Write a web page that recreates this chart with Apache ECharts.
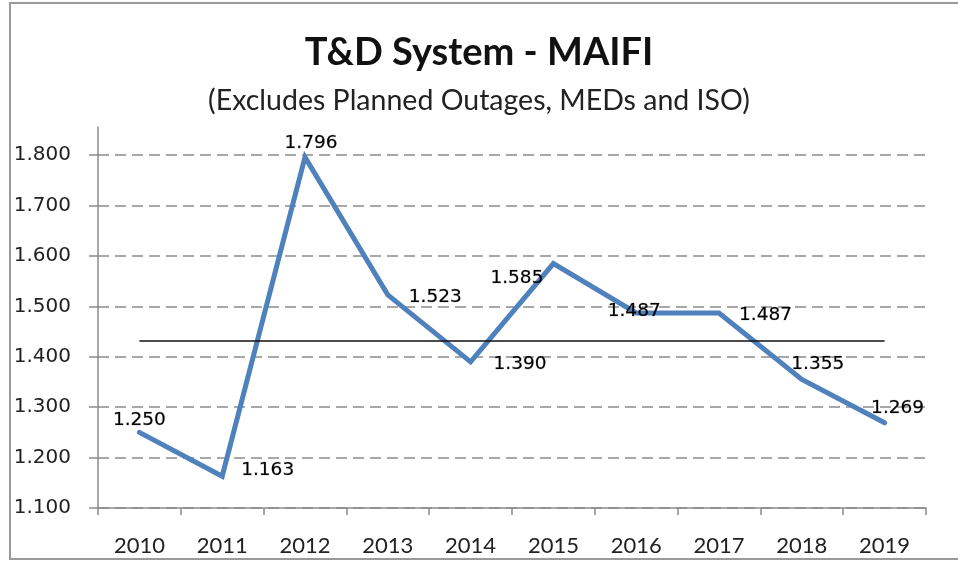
<!DOCTYPE html>
<html>
<head>
<meta charset="utf-8">
<script src="https://cdn.jsdelivr.net/npm/echarts@6/dist/echarts.min.js"></script>
<style>
  html, body { margin: 0; padding: 0; background: #fff; }
</style>
</head>
<body>
<div id="main" style="width: 958px; height: 561px"></div>
<script>
// data
const years = ["2010", "2011", "2012", "2013", "2014", "2015", "2016", "2017", "2018", "2019"];
const maifi = [1.250, 1.163, 1.796, 1.523, 1.390, 1.585, 1.487, 1.487, 1.355, 1.269];
const averageLevel = 1.431; // thin black line
const yTicks = [1.1, 1.2, 1.3, 1.4, 1.5, 1.6, 1.7, 1.8];

// where each value label sits (Excel-ish placement)
const labelPlace = [
  { position: "top", offset: [0, 3] },
  { position: "right", offset: [13, -6] },
  { position: "top", offset: [6, 1] },
  { position: "right", offset: [15, 2] },
  { position: "right", offset: [17, 2] },
  { position: "left", offset: [-4, 15] },
  { position: "inside", offset: [-2, -2] },
  { position: "right", offset: [14, 2] },
  { position: "top", offset: [16, 0] },
  { position: "top", offset: [13, 1] },
];

var myChart = echarts.init(document.getElementById("main"));

var gridColors = yTicks.map(() => "#8c8c8c");
gridColors.push("transparent"); // no line at the top of the plot

var option = {
  animation: false,
  title: {
    text: "T&D System - MAIFI",
    subtext: "(Excludes Planned Outages, MEDs and ISO)",
    left: "center",
    top: 29,
    itemGap: 14,
    textStyle: {
      fontFamily: "Lato",
      fontWeight: "bold",
      fontSize: 38,
      color: "#111",
    },
    subtextStyle: {
      fontFamily: "Lato",
      fontSize: 28.5,
      color: "#222",
    },
  },
  graphic: [
    {
      type: "rect",
      shape: { x: 10, y: 3, width: 960, height: 556 },
      style: { fill: "none", stroke: "#9a9a9a", lineWidth: 2 },
      silent: true,
    },
  ],
  grid: {
    left: 98,
    right: 32,
    top: 127,
    bottom: 53,
  },
  xAxis: {
    type: "category",
    data: years,
    boundaryGap: true,
    axisLine: { lineStyle: { color: "#8c8c8c", width: 1.5 } },
    axisTick: { show: true, length: 7, lineStyle: { color: "#8c8c8c", width: 1.5 } },
    axisLabel: {
      fontFamily: "Lato",
      fontSize: 22,
      color: "#222",
      margin: 27,
    },
  },
  yAxis: {
    type: "value",
    min: 1.1,
    max: 1.856,
    interval: 0.1,
    axisLine: { show: true, lineStyle: { color: "#8c8c8c", width: 1.5 } },
    axisTick: { show: true, length: 9, lineStyle: { color: "#8c8c8c", width: 1.5 } },
    axisLabel: {
      showMaxLabel: false,
      fontFamily: "DejaVu Sans",
      fontSize: 20,
      color: "#222",
      margin: 27,
      formatter: (v) => v.toFixed(3),
    },
    splitLine: {
      show: true,
      lineStyle: { color: gridColors, type: [11, 6], width: 1.5 },
    },
  },
  series: [
    {
      name: "MAIFI",
      type: "line",
      data: maifi.map((v, i) => ({
        value: v,
        label: labelPlace[i],
      })),
      symbol: "circle",
      symbolSize: 2,
      showSymbol: true,
      itemStyle: { color: "transparent", borderWidth: 0 },
      lineStyle: { color: "#4f81bd", width: 5, cap: "round", join: "miter" },
      label: {
        show: true,
        fontFamily: "DejaVu Sans",
        fontSize: 18.5,
        color: "#000",
        textBorderColor: "rgba(0,0,0,0.35)",
        textBorderWidth: 0.6,
        formatter: (p) => p.value.toFixed(3),
      },
      markLine: {
        silent: true,
        symbol: "none",
        label: { show: false },
        lineStyle: { color: "#111", width: 1.5, type: "solid" },
        data: [
          [
            { coord: [0, averageLevel] },
            { coord: [years.length - 1, averageLevel] },
          ],
        ],
      },
      z: 3,
    },
  ],
};

myChart.setOption(option);
</script>
</body>
</html>
